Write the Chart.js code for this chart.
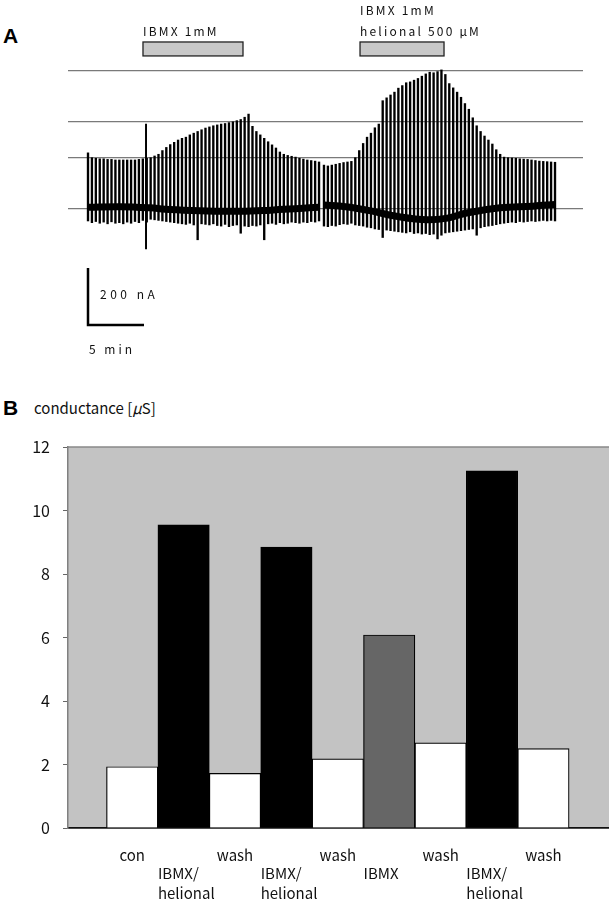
<!DOCTYPE html>
<html>
<head>
<meta charset="utf-8">
<script src="https://cdn.jsdelivr.net/npm/chart.js@4.4.1/dist/chart.umd.min.js"></script>
<style>
body { margin: 0; background: #fff; width: 609px; height: 900px; position: relative; overflow: hidden; }
canvas { position: absolute; left: 0; }
#chartA { top: 0; }
#chartB { top: 390px; }
.panel { position: absolute; font-family: "Liberation Sans", Arial, sans-serif; font-weight: bold; font-size: 21px; line-height: 1; }
.ylab { position: absolute; left: 34px; top: 399px; font-family: "Noto Sans CJK JP", "DejaVu Sans", sans-serif; font-size: 15px; line-height: 1.2; color: #111; }
</style>
</head>
<body>
<div class="panel" style="left:3px;top:25px">A</div>
<div class="panel" style="left:3px;top:397px">B</div>
<div class="ylab">conductance [<i>μ</i>S]</div>
<canvas id="chartA" width="609" height="380"></canvas>
<canvas id="chartB" width="609" height="510"></canvas>
<script>
// ---- panel A: current trace (time in min, current in nA) ----
const refLevels = [0, 179, 305, 484]

const seg1 = [0, 20.63]
const seg2 = [21.07, 41.7]

const spikeUp1 = [197,180,178,176,176,174,174,172,172,172,172,172,172,174,176,178,180,186,192,205,
    216,226,234,242,248,252,260,266,272,278,284,288,292,295,298,300,303,306,310,314,
    322,333,290,272,260,248,236,225,214,200,192,188,185,182,178,175,172,170,168,165]
const spikeDown1 = [-42,-48,-44,-50,-46,-52,-45,-50,-48,-52,-46,-50,-44,-48,-40,-46,-36,-38,-40,-42,
    -44,-46,-48,-50,-52,-54,-50,-56,-108,-52,-54,-56,-52,-58,-60,-54,-62,-58,-56,-85,
    -60,-62,-58,-60,-56,-108,-52,-50,-54,-48,-52,-50,-46,-48,-50,-46,-48,-44,-46,-42]

const spikeUp2 = [154,151,154,157,160,163,165,167,180,205,230,252,266,285,298,380,390,400,410,424,
    433,443,446,452,458,466,474,480,478,482,488,472,440,425,410,392,370,350,320,292,
    272,256,242,228,208,192,182,180,179,178,176,175,174,172,170,168,167,166,165,164]
const spikeDown2 = [-60,-62,-58,-60,-55,-52,-54,-50,-56,-58,-60,-64,-66,-70,-72,-100,-74,-76,-78,-80,
    -82,-84,-80,-86,-84,-88,-86,-90,-88,-105,-92,-84,-82,-80,-78,-76,-74,-72,-70,-92,
    -66,-62,-60,-58,-55,-52,-50,-48,-46,-48,-44,-46,-44,-42,-44,-42,-40,-42,-40,-42]

const baseT1 = [0, 2.9, 5.5, 7.3, 10, 13.6, 16.3, 18.9, 20.63]
const baseV1 = [6, 8, 4, -2, -6, -8, -4, 2, 6]
const baseT2 = [21.07, 23, 24.9, 27.9, 30.3, 32.1, 33.8, 36.8, 39.7, 41.7]
const baseV2 = [14, 8, -4, -28, -38, -32, -14, 4, 10, 16]

const artifactT = 5.18
const artifactRange = [-140, 298]

const drugStart = [4.91, 24.29]
const drugEnd = [13.84, 31.79]
const drugLabels = [['IBMX 1mM'], ['IBMX 1mM', 'helional 500 \u03bcM']]
const drugBar = [537, 586]

const scaleNA = 200
const scaleMin = 5
const scaleCorner = [0, -407]

// ---- panel B: conductance ----
const categories = ['con', 'IBMX/helional', 'wash', 'IBMX/helional', 'wash', 'IBMX', 'wash', 'IBMX/helional', 'wash']
const conductance = [1.93, 9.55, 1.72, 8.85, 2.18, 6.08, 2.68, 11.25, 2.5]
const yTicksB = [0, 2, 4, 6, 8, 10, 12]

const font = '"Noto Sans CJK JP", "DejaVu Sans", sans-serif'

function spikes(seg, up, down) {
    const step = (seg[1] - seg[0]) / (up.length - 1)
    return up.map((u, i) => ({ x: seg[0] + i * step, y: [down[i], u] }))
}

function baseline() {
    const a = baseT1.map((t, i) => ({ x: t, y: baseV1[i] }))
    const b = baseT2.map((t, i) => ({ x: t, y: baseV2[i] }))
    return a.concat([{ x: (seg1[1] + seg2[0]) / 2, y: null }], b)
}

const annotA = {
    id: 'annotA',
    afterDatasetsDraw(chart) {
        const { ctx, scales: { x, y } } = chart
        ctx.save()
        ctx.font = '12px ' + font
        ctx.textBaseline = 'middle'
        ctx.textAlign = 'left'
        drugStart.forEach((s, i) => {
            const x0 = x.getPixelForValue(s)
            const x1 = x.getPixelForValue(drugEnd[i])
            const yt = y.getPixelForValue(drugBar[1])
            const yb = y.getPixelForValue(drugBar[0])
            ctx.fillStyle = '#c8c8c8'
            ctx.fillRect(x0, yt, x1 - x0, yb - yt)
            ctx.strokeStyle = '#222'
            ctx.lineWidth = 1.3
            ctx.strokeRect(x0, yt, x1 - x0, yb - yt)
            ctx.fillStyle = '#111'
            ctx.letterSpacing = '2.2px'
            const lines = drugLabels[i]
            lines.forEach((l, k) => {
                ctx.fillText(l, x0, yt - 11 - (lines.length - 1 - k) * 21)
            })
        })
        // scale bar labels
        const sx = x.getPixelForValue(scaleCorner[0])
        const sy = y.getPixelForValue(scaleCorner[1])
        const sTop = y.getPixelForValue(scaleCorner[1] + scaleNA)
        ctx.letterSpacing = '3.5px'
        ctx.fillText(scaleNA + ' nA', sx + 12, (sy + sTop) / 2 - 2)
        ctx.letterSpacing = '3px'
        ctx.fillText(scaleMin + ' min', sx + 1, sy + 24)
        ctx.restore()
    }
}

new Chart(document.getElementById('chartA'), {
    type: 'bar',
    data: {
        datasets: [
            {
                type: 'line',
                data: baseline(),
                borderColor: '#000',
                borderWidth: 7,
                pointRadius: 0,
                tension: 0.4,
                spanGaps: false
            },
            {
                data: spikes(seg1, spikeUp1, spikeDown1),
                backgroundColor: '#000',
                barThickness: 1.7,
                grouped: false
            },
            {
                data: spikes(seg2, spikeUp2, spikeDown2),
                backgroundColor: '#000',
                barThickness: 1.7,
                grouped: false
            },
            {
                data: [{ x: artifactT, y: artifactRange }],
                backgroundColor: '#000',
                barThickness: 1.3,
                grouped: false
            },
            {
                type: 'line',
                data: [
                    { x: scaleCorner[0], y: scaleCorner[1] + scaleNA },
                    { x: scaleCorner[0], y: scaleCorner[1] },
                    { x: scaleCorner[0] + scaleMin, y: scaleCorner[1] }
                ],
                borderColor: '#000',
                borderWidth: 2.5,
                pointRadius: 0,
                tension: 0
            }
        ]
    },
    options: {
        responsive: false,
        animation: false,
        layout: { padding: { left: 68, right: 26, top: 0, bottom: 0 } },
        plugins: { legend: { display: false }, tooltip: { enabled: false } },
        scales: {
            x: { type: 'linear', min: -1.786, max: 44.2, offset: false, display: false },
            y: {
                type: 'linear',
                min: -600,
                max: 733.3,
                afterBuildTicks: s => { s.ticks = refLevels.map(v => ({ value: v })) },
                afterFit: s => { s.width = 0 },
                ticks: { display: false },
                grid: { color: '#7a7a7a', lineWidth: 1.3, drawTicks: false },
                border: { display: false }
            }
        }
    },
    plugins: [annotA]
})

// ---- panel B ----
const plotBg = {
    id: 'plotBg',
    beforeDraw(chart) {
        const { ctx, chartArea: a } = chart
        ctx.save()
        ctx.fillStyle = '#c3c3c3'
        ctx.fillRect(a.left, a.top, a.right - a.left, a.bottom - a.top)
        ctx.strokeStyle = '#888'
        ctx.lineWidth = 1.5
        ctx.beginPath()
        ctx.moveTo(a.left, a.top)
        ctx.lineTo(a.right, a.top)
        ctx.stroke()
        ctx.restore()
    }
}

const xLabels = {
    id: 'xLabels',
    afterDraw(chart) {
        const { ctx, chartArea: a, scales: { x } } = chart
        ctx.save()
        ctx.font = '15px ' + font
        ctx.fillStyle = '#111'
        ctx.textBaseline = 'middle'
        categories.forEach((c, i) => {
            if (c === 'con' || c === 'wash') {
                ctx.textAlign = 'center'
                ctx.fillText(c, x.getPixelForValue(i), a.bottom + 27)
            } else {
                ctx.textAlign = 'left'
                const left = x.getPixelForValue(i - 0.5)
                c.split(/(?<=\/)/).forEach((l, k) => {
                    ctx.fillText(l, left, a.bottom + 45 + k * 20)
                })
            }
        })
        ctx.restore()
    }
}

function barColor(c) {
    if (c === 'con' || c === 'wash') return '#ffffff'
    if (c === 'IBMX') return '#666666'
    return '#000000'
}

new Chart(document.getElementById('chartB'), {
    type: 'bar',
    data: {
        datasets: [{
            data: conductance.map((v, i) => ({ x: i, y: v })),
            backgroundColor: categories.map(barColor),
            borderColor: '#000',
            borderWidth: 1.2,
            barPercentage: 1,
            categoryPercentage: 1
        }]
    },
    options: {
        responsive: false,
        animation: false,
        layout: { padding: { left: 0, right: 0, top: 57, bottom: 0 } },
        plugins: { legend: { display: false }, tooltip: { enabled: false } },
        scales: {
            x: {
                type: 'linear',
                min: -1.249,
                max: 9.276,
                offset: false,
                afterFit: s => { s.height = 72 },
                ticks: { display: false },
                grid: { display: false },
                border: { color: '#111', width: 1.8 }
            },
            y: {
                min: 0,
                max: 12,
                afterBuildTicks: s => { s.ticks = yTicksB.map(v => ({ value: v })) },
                afterFit: s => { s.width = 68 },
                ticks: { color: '#111', padding: 13, font: { family: font, size: 16 } },
                grid: { drawOnChartArea: false, tickLength: 5, color: '#666' },
                border: { color: '#808080', width: 1.5 }
            }
        }
    },
    plugins: [plotBg, xLabels]
})
</script>
</body>
</html>
